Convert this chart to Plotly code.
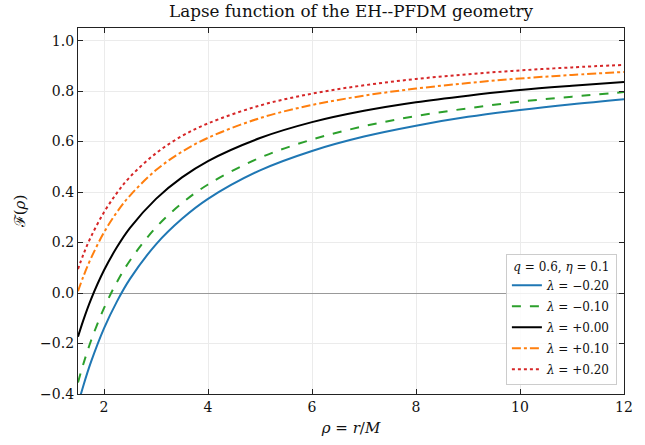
import plotly.graph_objects as go

rho = [1.5, 1.6, 1.75, 2.0, 2.25, 2.5, 3.0, 3.5, 4.0, 5.0, 6.0, 7.0, 8.0, 9.0, 10.0, 11.0, 12.0]

f_m020 = [-0.442, -0.369, -0.273, -0.140, -0.033, 0.056, 0.193, 0.294, 0.373, 0.486, 0.563, 0.620, 0.663, 0.698, 0.725, 0.748, 0.768]
f_m010 = [-0.354, -0.283, -0.189, -0.060, 0.044, 0.129, 0.260, 0.356, 0.430, 0.536, 0.608, 0.661, 0.701, 0.732, 0.758, 0.778, 0.796]
f_p000 = [-0.173, -0.109, -0.025, 0.090, 0.182, 0.258, 0.373, 0.458, 0.523, 0.614, 0.677, 0.722, 0.756, 0.782, 0.804, 0.821, 0.836]
f_p010 = [0.007, 0.064, 0.138, 0.240, 0.321, 0.386, 0.487, 0.560, 0.615, 0.693, 0.745, 0.782, 0.810, 0.832, 0.850, 0.864, 0.876]
f_p020 = [0.095, 0.151, 0.223, 0.320, 0.397, 0.460, 0.554, 0.622, 0.672, 0.743, 0.790, 0.823, 0.848, 0.867, 0.882, 0.894, 0.904]

series = [
    ("λ = −0.20", f_m020, "#1f77b4", "solid"),
    ("λ = −0.10", f_m010, "#2ca02c", "dash"),
    ("λ = +0.00", f_p000, "#000000", "solid"),
    ("λ = +0.10", f_p010, "#ff7f0e", "dashdot"),
    ("λ = +0.20", f_p020, "#d62728", "dot"),
]

x_ticks = [2, 4, 6, 8, 10, 12]
y_ticks = [-0.4, -0.2, 0.0, 0.2, 0.4, 0.6, 0.8, 1.0]

FONT = "DejaVu Serif"

fig = go.Figure()
for i, (name, vals, color, dash) in enumerate(series):
    lab = name.replace("λ", "<i>λ</i>")
    fig.add_trace(go.Scatter(
        x=rho, y=vals, mode="lines", name=lab, legendgroup=f"g{i}",
        line=dict(color=color, width=2, dash=dash, shape="spline", smoothing=1.0),
    ))

fig.update_layout(
    width=645, height=445,
    margin=dict(l=78, r=21, t=28, b=44),
    paper_bgcolor="white", plot_bgcolor="white",
    font=dict(family=FONT, size=14, color="#111"),
    title=dict(text="Lapse function of the EH--PFDM geometry", x=0.5, xanchor="center", xref="paper",
               y=0.988, yanchor="top", font=dict(size=16.8, family=FONT, color="#111")),
    showlegend=True,
    legend=dict(
        title=dict(text="<i>q</i> = 0.6, <i>η</i> = 0.1", font=dict(size=12, family=FONT), side="top center"),
        x=0.987, y=0.024, xanchor="right", yanchor="bottom",
        bgcolor="rgba(255,255,255,0.85)", bordercolor="#cccccc", borderwidth=1,
        font=dict(size=12, family=FONT), itemwidth=30, tracegroupgap=2,
    ),
)

fig.update_xaxes(
    range=[1.5, 12], tickvals=x_ticks, ticktext=[str(v) for v in x_ticks],
    ticks="inside", ticklen=5, tickwidth=1, tickcolor="#222",
    showline=True, linecolor="#222", linewidth=1.2, mirror="ticks",
    showgrid=True, gridcolor="#ebebeb", gridwidth=1, zeroline=False,
    title=dict(text="<i>ρ</i> = <i>r</i>/<i>M</i>", font=dict(size=15, family=FONT), standoff=8),
    tickfont=dict(size=14, family=FONT),
)
fig.update_yaxes(
    range=[-0.4, 1.05], tickvals=y_ticks, tickformat=".1f",
    ticks="inside", ticklen=5, tickwidth=1, tickcolor="#222",
    showline=True, linecolor="#222", linewidth=1.2, mirror="ticks",
    showgrid=True, gridcolor="#ebebeb", gridwidth=1,
    zeroline=True, zerolinecolor="#999999", zerolinewidth=1,
    title=dict(text="ℱ(<i>ρ</i>)", font=dict(size=15, family=FONT), standoff=10),
    tickfont=dict(size=14, family=FONT),
)

fig.write_html("out.html")
